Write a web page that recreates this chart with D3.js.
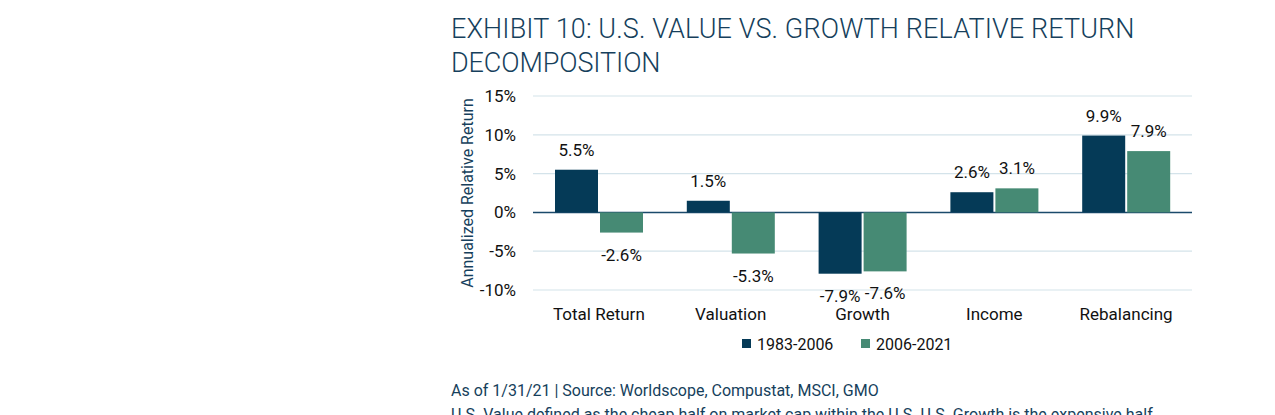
<!DOCTYPE html>
<html><head><meta charset="utf-8">
<script src="https://cdn.jsdelivr.net/npm/d3@7"></script>
<style>body{margin:0;background:#fff;font-family:Roboto,sans-serif;}</style>
</head><body><svg id="c" width="1275" height="415"></svg>
<script>
const categories=["Total Return","Valuation","Growth","Income","Rebalancing"];
const seriesNames=["1983-2006","2006-2021"];
const s1=[5.5,1.5,-7.9,2.6,9.9];
const s2=[-2.6,-5.3,-7.6,3.1,7.9];
const labels1=["5.5%","1.5%","-7.9%","2.6%","9.9%"];
const labels2=["-2.6%","-5.3%","-7.6%","3.1%","7.9%"];
const ticks=[15,10,5,0,-5,-10];
const colors=["#053a57","#468a74"];
const txt="#163f5c";
const svg=d3.select("#c");
const L=533,R=1192;
const y=d3.scaleLinear().domain([-10,15]).range([290,96]);
const x=d3.scaleBand().domain(categories).range([L,R]);
const t=svg.append("g").attr("fill",txt).style("font-size","27px").style("font-weight",300).style("letter-spacing","0.5px");
t.append("text").attr("x",451).attr("y",38).text("EXHIBIT 10: U.S. VALUE VS. GROWTH RELATIVE RETURN").attr("textLength",684);
t.append("text").attr("x",451).attr("y",72).text("DECOMPOSITION").attr("textLength",210);
svg.append("g").selectAll("line").data(ticks).join("line").attr("x1",L).attr("x2",R)
 .attr("y1",d=>y(d)).attr("y2",d=>y(d)).attr("stroke",d=>d===0?"#1b4a6b":"#d4e3ea").attr("stroke-width",d=>d===0?1.5:1.2);
svg.append("g").selectAll("text").data(ticks).join("text").attr("x",516).attr("y",d=>y(d)+6)
 .attr("text-anchor","end").attr("font-size","17px").attr("fill","#111").text(d=>d+"%");
svg.append("text").attr("transform","translate(473,193) rotate(-90)").attr("text-anchor","middle")
 .attr("font-size","16px").attr("fill",txt).text("Annualized Relative Return");
const bw=43;
[s1,s2].forEach((s,si)=>{
 const lab=si?labels2:labels1;
 const g=svg.append("g");
 g.selectAll("rect").data(s).join("rect")
  .attr("x",(d,i)=>x(categories[i])+22+si*(bw+2)).attr("width",bw)
  .attr("y",d=>y(Math.max(0,d))).attr("height",d=>Math.abs(y(d)-y(0))).attr("fill",colors[si]);
 g.selectAll("text").data(s).join("text")
  .attr("x",(d,i)=>x(categories[i])+22+si*(bw+2)+bw/2).attr("text-anchor","middle")
  .attr("y",d=>d>=0?y(d)-14:y(d)+28).attr("font-size","17px").attr("fill","#111").text((d,i)=>lab[i]);
});
svg.append("g").selectAll("text").data(categories).join("text")
 .attr("x",d=>x(d)+x.bandwidth()/2).attr("y",320).attr("text-anchor","middle")
 .attr("font-size","17px").attr("fill","#111").text(d=>d);
const lg=svg.append("g");
[[742,0],[861,1]].forEach(([lx,i])=>{
 lg.append("rect").attr("x",lx).attr("y",339).attr("width",9).attr("height",9).attr("fill",colors[i]);
 lg.append("text").attr("x",lx+15).attr("y",350).attr("font-size","16px").attr("fill","#111").text(seriesNames[i]);
});
svg.append("text").attr("x",451).attr("y",396).attr("font-size","16px").attr("fill",txt).text("As of 1/31/21 | Source: Worldscope, Compustat, MSCI, GMO");
svg.append("text").attr("x",451).attr("y",420).attr("font-size","16px").attr("fill",txt).text("U.S. Value defined as the cheap half on market cap within the U.S. U.S. Growth is the expensive half.");
</script></body></html>
